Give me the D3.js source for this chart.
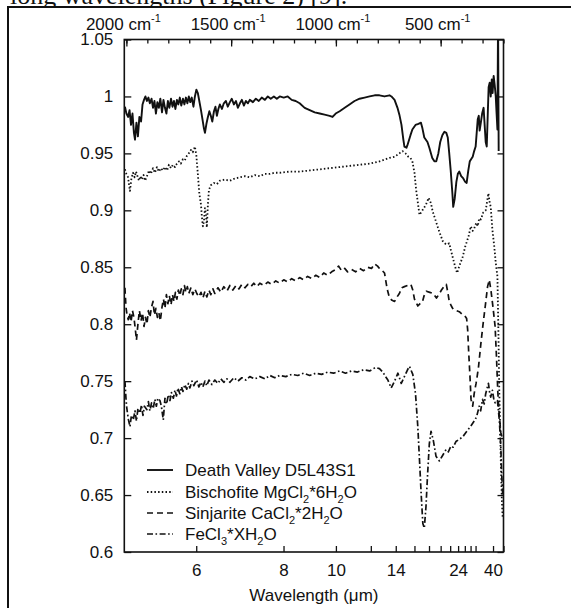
<!DOCTYPE html>
<html><head><meta charset="utf-8">
<script src="https://cdn.jsdelivr.net/npm/d3@7"></script>
<style>
body{margin:0;background:#fff}
svg{display:block}
text{font-family:"Liberation Sans",Arial,Helvetica,sans-serif;fill:#111}
</style>
</head><body>
<svg id="chart" width="571" height="608"></svg>
<script>
// ---------- data (x in wavenumber cm^-1, y = reflectance) ----------
const deathValley = [[2007,.991],[2000,.985],[1992,.982],[1985,.988],[1978,.975],[1971,.985],[1964,.968],[1959,.962],[1952,.977],[1945,.965],[1938,.982],[1930,.978],[1923,.993],[1916,.997],[1909,1.0],[1902,.996],[1895,.999],[1888,.994],[1880,.998],[1873,.99],[1866,.996],[1859,.985],[1852,.995],[1845,.99],[1838,.998],[1830,.986],[1823,.997],[1816,.99],[1809,.985],[1802,.996],[1795,.99],[1787,.998],[1780,.991],[1773,.996],[1766,.989],[1759,.997],[1752,.993],[1745,.999],[1738,.992],[1730,.998],[1723,.993],[1716,.999],[1709,.994],[1702,1.0],[1695,.995],[1688,.999],[1680,.991],[1673,1.0],[1666,1.006],[1659,1.003],[1652,.996],[1644,.988],[1637,.98],[1630,.972],[1625,.968],[1618,.976],[1611,.982],[1604,.987],[1597,.983],[1590,.978],[1582,.987],[1575,.991],[1568,.983],[1561,.989],[1554,.993],[1544,.989],[1535,.994],[1525,.996],[1516,.991],[1506,.995],[1497,.998],[1487,.993],[1477,.996],[1468,.99],[1458,.994],[1449,.997],[1439,.992],[1430,.996],[1420,.994],[1411,.997],[1396,.995],[1382,.998],[1368,.996],[1354,.999],[1339,.997],[1325,1.0],[1311,.998],[1296,1.0],[1282,.998],[1268,1.0],[1249,.999],[1230,1.0],[1211,.997],[1192,.996],[1173,.994],[1149,.99],[1125,.988],[1101,.986],[1077,.985],[1054,.984],[1030,.983],[1016,.982],[1001,.985],[982,.987],[958,.99],[935,.993],[911,.996],[887,.998],[863,.999],[839,1.0],[815,1.001],[792,1.001],[768,1.0],[744,1.001],[735,1.0],[720,.997],[706,.99],[697,.984],[687,.975],[678,.962],[673,.956],[663,.955],[659,.957],[644,.966],[635,.971],[620,.975],[606,.976],[594,.977],[587,.972],[578,.964],[563,.96],[554,.955],[540,.946],[530,.943],[521,.943],[511,.95],[502,.96],[492,.966],[482,.969],[473,.968],[466,.964],[459,.95],[452,.935],[444,.915],[440,.903],[433,.91],[425,.925],[418,.932],[411,.934],[402,.93],[392,.928],[383,.925],[376,.924],[368,.935],[361,.943],[354,.945],[347,.947],[340,.952],[333,.956],[328,.968],[323,.98],[318,.983],[314,.97],[309,.976],[302,.985],[295,.99],[290,.975],[285,.96],[280,.956],[275,.985],[271,1.008],[266,1.012],[261,1.0],[256,1.015],[252,1.003],[247,1.018],[242,1.01],[237,1.0],[233,.985],[229,.971],[226,1.07],[223,.952]];

const bischofite = [[2007,.936],[2000,.932],[1992,.929],[1987,.922],[1983,.917],[1976,.928],[1968,.933],[1961,.929],[1954,.934],[1947,.93],[1940,.926],[1933,.93],[1926,.927],[1918,.931],[1911,.926],[1902,.93],[1892,.935],[1883,.932],[1873,.937],[1864,.933],[1854,.938],[1845,.934],[1835,.937],[1826,.935],[1816,.938],[1806,.935],[1797,.94],[1787,.937],[1778,.94],[1768,.938],[1759,.941],[1749,.943],[1740,.941],[1730,.945],[1721,.944],[1711,.948],[1702,.95],[1692,.953],[1683,.951],[1673,.956],[1666,.948],[1659,.932],[1652,.915],[1644,.905],[1640,.895],[1635,.886],[1630,.89],[1625,.902],[1620,.896],[1616,.885],[1611,.905],[1606,.918],[1597,.922],[1582,.924],[1568,.923],[1554,.926],[1530,.927],[1506,.926],[1482,.928],[1458,.929],[1434,.93],[1411,.929],[1387,.931],[1363,.93],[1339,.932],[1315,.932],[1292,.933],[1268,.933],[1220,.934],[1173,.934],[1125,.935],[1077,.936],[1030,.937],[982,.938],[935,.939],[887,.94],[839,.941],[792,.943],[744,.946],[720,.947],[697,.95],[682,.952],[668,.95],[654,.947],[644,.946],[635,.943],[625,.933],[617,.918],[609,.907],[601,.896],[587,.9],[570,.905],[557,.911],[546,.906],[538,.899],[522,.89],[506,.881],[490,.873],[474,.87],[459,.871],[451,.865],[440,.857],[427,.848],[421,.845],[411,.851],[395,.859],[383,.868],[367,.877],[356,.886],[347,.882],[340,.884],[330,.889],[323,.886],[316,.893],[308,.892],[297,.898],[285,.9],[278,.908],[272,.915],[266,.907],[261,.903],[253,.883],[244,.868],[237,.854],[229,.842],[224,.79],[220,.74],[216,.71],[213,.681],[208,.646],[204,.63]];

const sinjarite = [[2007,.832],[2002,.815],[1997,.808],[1991,.804],[1985,.81],[1978,.802],[1971,.812],[1964,.806],[1957,.795],[1952,.786],[1945,.8],[1938,.812],[1930,.803],[1923,.81],[1916,.798],[1909,.806],[1902,.8],[1895,.812],[1888,.806],[1880,.815],[1873,.82],[1866,.808],[1859,.814],[1852,.806],[1845,.81],[1838,.803],[1830,.815],[1823,.822],[1816,.814],[1809,.826],[1802,.818],[1795,.825],[1787,.817],[1780,.826],[1773,.82],[1766,.828],[1759,.822],[1752,.83],[1745,.825],[1738,.831],[1730,.826],[1723,.834],[1716,.828],[1709,.833],[1702,.827],[1692,.832],[1683,.826],[1673,.831],[1664,.827],[1654,.824],[1644,.828],[1635,.823],[1625,.829],[1616,.824],[1606,.83],[1597,.826],[1587,.831],[1578,.827],[1563,.832],[1549,.828],[1535,.833],[1520,.829],[1506,.834],[1492,.83],[1477,.834],[1463,.831],[1449,.835],[1434,.832],[1420,.835],[1406,.833],[1392,.836],[1377,.833],[1363,.836],[1344,.834],[1325,.837],[1306,.835],[1287,.838],[1268,.836],[1249,.839],[1230,.837],[1211,.84],[1192,.838],[1173,.841],[1154,.839],[1135,.842],[1115,.84],[1096,.843],[1077,.841],[1058,.845],[1039,.843],[1020,.846],[1001,.848],[987,.851],[973,.847],[958,.849],[944,.846],[925,.848],[906,.846],[887,.849],[868,.847],[849,.85],[830,.849],[815,.853],[801,.851],[792,.849],[778,.847],[768,.845],[759,.835],[754,.83],[744,.823],[732,.821],[720,.82],[708,.824],[697,.827],[685,.832],[673,.833],[658,.834],[642,.835],[633,.83],[625,.822],[609,.816],[598,.818],[588,.819],[579,.825],[568,.829],[552,.828],[536,.827],[520,.823],[509,.826],[496,.83],[485,.833],[473,.835],[464,.826],[459,.82],[449,.816],[440,.813],[425,.812],[411,.811],[399,.809],[387,.808],[376,.805],[371,.795],[366,.775],[360,.754],[355,.734],[347,.728],[340,.739],[331,.748],[325,.755],[319,.763],[308,.783],[297,.801],[287,.816],[276,.833],[268,.839],[260,.83],[249,.813],[240,.798],[233,.769],[227,.74],[220,.719],[213,.705],[206,.7]];

const ferricChloride = [[2007,.75],[2002,.735],[1999,.728],[1995,.722],[1990,.716],[1983,.71],[1976,.72],[1967,.716],[1959,.724],[1952,.715],[1945,.726],[1935,.722],[1928,.729],[1921,.72],[1914,.728],[1902,.725],[1895,.732],[1888,.724],[1880,.731],[1872,.726],[1864,.734],[1857,.728],[1850,.735],[1840,.733],[1833,.728],[1824,.716],[1816,.735],[1808,.73],[1800,.738],[1792,.733],[1785,.74],[1776,.735],[1768,.742],[1761,.737],[1754,.744],[1745,.739],[1737,.745],[1730,.741],[1721,.747],[1712,.743],[1704,.748],[1697,.744],[1687,.75],[1678,.746],[1665,.751],[1654,.745],[1644,.749],[1635,.745],[1625,.75],[1616,.746],[1606,.751],[1592,.747],[1578,.751],[1563,.748],[1549,.752],[1535,.749],[1520,.752],[1506,.749],[1487,.753],[1468,.75],[1449,.753],[1430,.751],[1411,.754],[1387,.752],[1363,.754],[1339,.752],[1315,.755],[1292,.753],[1268,.755],[1239,.754],[1211,.756],[1182,.755],[1154,.757],[1125,.755],[1096,.757],[1068,.756],[1039,.758],[1011,.757],[982,.759],[954,.757],[925,.759],[897,.758],[868,.76],[839,.759],[811,.762],[792,.761],[776,.758],[763,.754],[752,.751],[736,.744],[720,.75],[704,.757],[688,.748],[673,.754],[658,.76],[649,.763],[633,.756],[620,.739],[609,.71],[601,.681],[593,.651],[585,.625],[578,.621],[570,.64],[563,.666],[554,.695],[546,.706],[535,.698],[522,.684],[506,.68],[490,.685],[474,.69],[463,.688],[451,.693],[440,.692],[427,.697],[411,.699],[395,.701],[383,.704],[371,.707],[358,.71],[347,.713],[336,.716],[328,.719],[316,.728],[309,.724],[300,.734],[292,.73],[285,.739],[278,.744],[272,.748],[266,.74],[261,.736],[253,.742],[247,.735],[240,.731],[229,.733],[220,.716],[213,.693],[209,.67],[204,.65]];

const seriesNames = ["Death Valley D5L43S1","Bischofite MgCl_2*6H_2O","Sinjarite CaCl_2*2H_2O","FeCl_3*XH_2O"];
const yTicks = [0.6,0.65,0.7,0.75,0.8,0.85,0.9,0.95,1,1.05];
const wavelengthTicks = [6,8,10,12,14,16,18,20,22,24,26,28,30,40,50];
const wavelengthLabels = [6,8,10,14,24,40];
const wavenumberMinor = [2000,1900,1800,1700,1600,1500,1400,1300,1200,1100,1000,900,800,700,600,500,400,300,200];
const wavenumberMajor = [2000,1500,1000,500];
const captionText = "long wavelengths (Figure 2) [9].";

// ---------- layout ----------
const L = 124.3, R = 503.5, T = 39.5, B = 552;
const svg = d3.select("#chart");
const x = d3.scaleLinear().domain([2010, 200]).range([L, R]);
const y = d3.scaleLinear().domain([0.6, 1.05]).range([B, T]);
const FS = 17;
const ink = "#111";

// caption (cut off at top) + outer frame
svg.append("clipPath").attr("id","capclip").append("rect").attr("x",0).attr("y",0).attr("width",571).attr("height",6.2);
svg.append("text").attr("clip-path","url(#capclip)")
  .attr("x",10).attr("y",3.5).style("font-family",'"Liberation Serif","Times New Roman",serif')
  .style("font-size","26px").text(captionText);
svg.append("path").attr("d","M8,608V7H571").attr("fill","none").attr("stroke",ink).attr("stroke-width",2);

// clip for spectra
svg.append("clipPath").attr("id","plotclip").append("rect")
  .attr("x",L).attr("y",T).attr("width",R-L).attr("height",B-T);

const styles = [
  {data: deathValley, dash: null, w: 1.9},
  {data: bischofite, dash: "1.5,2.2", w: 1.8},
  {data: sinjarite, dash: "6,4", w: 1.7},
  {data: ferricChloride, dash: "6,2.5,1.6,2.5", w: 1.7}
];
const line = d3.line().x(d => x(d[0])).y(d => y(d[1]));
const gLines = svg.append("g").attr("clip-path","url(#plotclip)");
styles.forEach(s => {
  gLines.append("path").datum(s.data).attr("d", line)
    .attr("fill","none").attr("stroke",ink).attr("stroke-width",s.w)
    .attr("stroke-linejoin","round")
    .attr("stroke-dasharray", s.dash);
});

function styleAxis(g){
  g.select(".domain").remove();
  g.selectAll("line").attr("stroke",ink).attr("stroke-width",1.3);
  g.selectAll("text").style("font-size",FS+"px").attr("fill",ink)
   .style("font-family",'"Liberation Sans",Arial,sans-serif');
}

// left axis
svg.append("g").attr("transform",`translate(${L},0)`)
  .call(d3.axisLeft(y).tickValues(yTicks).tickSizeInner(-7).tickSizeOuter(0).tickPadding(11)
    .tickFormat(d => String(+d.toFixed(2))))
  .call(styleAxis);
// right axis
svg.append("g").attr("transform",`translate(${R},0)`)
  .call(d3.axisRight(y).tickValues(yTicks).tickSizeInner(-6).tickSizeOuter(0).tickFormat(""))
  .call(styleAxis);
// bottom axis (wavelength)
svg.append("g").attr("transform",`translate(0,${B})`)
  .call(d3.axisBottom(x).tickValues(wavelengthTicks.map(l => 1e4 / l)).tickSizeInner(-6).tickSizeOuter(0).tickPadding(12)
    .tickFormat(v => { const l = Math.round(1e4 / v); return wavelengthLabels.includes(l) ? String(l) : ""; }))
  .call(styleAxis);
// top axis (wavenumber)
svg.append("g").attr("transform",`translate(0,${T})`)
  .call(d3.axisTop(x).tickValues(wavenumberMinor).tickSizeInner(-4).tickSizeOuter(0).tickFormat(""))
  .call(styleAxis);
svg.append("g").attr("transform",`translate(0,${T})`)
  .call(d3.axisTop(x).tickValues(wavenumberMajor).tickSizeInner(-7).tickSizeOuter(0).tickFormat(""))
  .call(styleAxis);
wavenumberMajor.forEach(v => {
  const t = svg.append("text").attr("x", x(v) - 3).attr("y", 29.5).attr("text-anchor","middle")
    .style("font-size", FS+"px");
  t.append("tspan").text(v + " cm");
  t.append("tspan").attr("dy",-8).style("font-size","11px").text("-1");
});

// frame
svg.append("rect").attr("x",L).attr("y",T).attr("width",R-L).attr("height",B-T)
  .attr("fill","none").attr("stroke",ink).attr("stroke-width",1.6);

// x title
svg.append("text").attr("x",(L+R)/2).attr("y",601).attr("text-anchor","middle")
  .style("font-size",FS+"px").text("Wavelength (\u03bcm)");

// legend
const legY = [476, 498, 519, 540];
seriesNames.forEach((name, i) => {
  const s = styles[i];
  svg.append("line").attr("x1",147).attr("x2",173).attr("y1",legY[i]-6).attr("y2",legY[i]-6)
    .attr("stroke",ink).attr("stroke-width",s.w).attr("stroke-dasharray",s.dash);
  const t = svg.append("text").attr("x",185).attr("y",legY[i]).style("font-size",FS+"px");
  const parts = name.split(/(_\d)/).filter(p => p.length);
  let shifted = false;
  parts.forEach(p => {
    if (p.startsWith("_")) {
      t.append("tspan").attr("dy",5).style("font-size","11px").text(p.slice(1));
      shifted = true;
    } else {
      const ts = t.append("tspan").text(p);
      if (shifted) { ts.attr("dy",-5); shifted = false; }
    }
  });
});
</script>
</body></html>
